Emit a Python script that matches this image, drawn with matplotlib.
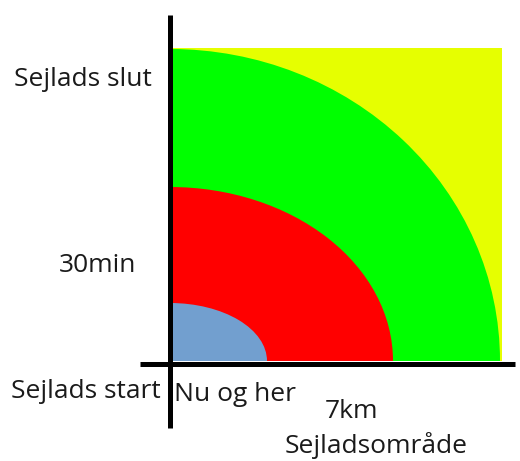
import matplotlib
matplotlib.use("Agg")
import matplotlib.pyplot as plt
from matplotlib.patches import Rectangle, Ellipse

plt.rcParams['font.family'] = ['Open Sans', 'DejaVu Sans']

# zoner: bredde (afstand) og højde (tid) i tegningens enheder
zone_colors = ['#00ff00', '#ff0000', '#729fcf']
zone_width = [330, 223, 97]
zone_height = [312, 174, 58]
area_width = 332
area_height = 313
area_color = '#e6ff00'

labels = ['Sejlads slut', '30min', 'Sejlads start', 'Nu og her', '7km', 'Sejladsområde']
label_x = [-87, -72, -84, 65, 181, 206]
label_y = [281, 95, -30, -33, -50, -84]

fig = plt.figure(figsize=(5.2, 4.61), dpi=100)
ax = fig.add_axes([0, 0, 1, 1])
ax.set_xlim(-170, 350)
ax.set_ylim(-100, 361)
ax.axis('off')

rect = Rectangle((0, 0), area_width, area_height, color=area_color, lw=0)
ax.add_patch(rect)
for c, w, h in zip(zone_colors, zone_width, zone_height):
    e = Ellipse((0, 0), 2 * w, 2 * h, color=c, lw=0)
    ax.add_patch(e)
    e.set_clip_path(rect)

ax.plot([0, 0], [-67, 346], color='black', lw=3.6, solid_capstyle='butt')
ax.plot([-30, 345], [-3, -3], color='black', lw=3.6, solid_capstyle='butt')

for t, x, y in zip(labels, label_x, label_y):
    ax.text(x, y, t, ha='center', va='center', fontsize=19, color='#1a1a1a')

fig.savefig('out.png', dpi=100)
